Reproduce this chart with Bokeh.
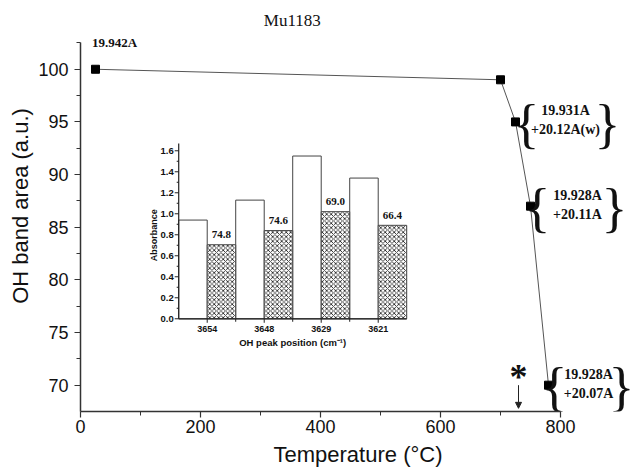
import numpy as np
from bokeh.plotting import figure
from bokeh.models import Range1d, FixedTicker, Arrow, NormalHead
from bokeh.core.properties import value
from bokeh.embed import file_html
from bokeh.resources import INLINE

# ---------------- data ----------------
title_text = "Mu1183"
temps = [25, 700, 725, 750, 780]
area = [100, 99, 95, 87, 70]
first_label = "19.942A"
brace_top = ["19.931A", "19.928A", "19.928A"]
brace_bot = ["+20.12A(w)", "+20.11A", "+20.07A"]
marker_temp = 730
arrow_from = 70.0
arrow_to = 67.8

x_major = [0, 200, 400, 600, 800]
x_minor = [100, 300, 500, 700]
y_major = [70, 75, 80, 85, 90, 95, 100]
y_minor = [72.5, 77.5, 82.5, 87.5, 92.5, 97.5, 102.5]

peaks = ["3654", "3648", "3629", "3621"]
abs_before = [0.94, 1.13, 1.55, 1.34]
abs_after = [0.705, 0.84, 1.02, 0.89]
pct = ["74.8", "74.6", "69.0", "66.4"]
inset_yticks = [0.0, 0.2, 0.4, 0.6, 0.8, 1.0, 1.2, 1.4, 1.6]
inset_yminor = [0.1, 0.3, 0.5, 0.7, 0.9, 1.1, 1.3, 1.5]
inset_ytop = 1.67

# ---------------- figure ----------------
SANS = "Liberation Sans"
SERIF = "Liberation Serif"
AX = "#333333"

p = figure(frame_width=555, frame_height=411,
           min_border_left=80, min_border_right=0, min_border_top=0, min_border_bottom=65,
           x_range=Range1d(0, 925), y_range=Range1d(67.5, 106.53),
           output_backend="svg", toolbar_location=None,
           x_axis_label="Temperature (°C)", y_axis_label="OH band area (a.u.)")
p.outline_line_color = None
p.grid.visible = False
p.background_fill_color = "white"
p.border_fill_color = "white"

p.xaxis.bounds = (0, 800)
p.yaxis.bounds = (67.5, 102.5)
p.xaxis.ticker = FixedTicker(ticks=x_major, minor_ticks=x_minor)
p.yaxis.ticker = FixedTicker(ticks=y_major, minor_ticks=y_minor)
for ax in (p.xaxis, p.yaxis):
    ax.axis_line_color = AX
    ax.axis_line_width = 1.5
    ax.major_tick_line_color = AX
    ax.minor_tick_line_color = AX
    ax.major_tick_line_width = 1.2
    ax.major_tick_out = 6
    ax.major_tick_in = 0
    ax.minor_tick_out = 4
    ax.minor_tick_in = 0
    ax.major_label_text_font = SANS
    ax.major_label_text_font_size = "18px"
    ax.major_label_text_color = "#111111"
    ax.axis_label_text_font = SANS
    ax.axis_label_text_font_size = "22px"
    ax.axis_label_text_font_style = "normal"
    ax.axis_label_text_color = "#111111"
p.xaxis.major_label_standoff = 2
p.xaxis.axis_label_standoff = 6
p.yaxis.major_label_standoff = 6
p.yaxis.axis_label_standoff = 2

# main line + points
p.line(temps, area, line_color="#555555", line_width=1)
p.scatter(temps, area, marker="square", size=8, color="black")

# title
p.text(x=[353], y=[104.63], text=[title_text], text_font=value(SERIF),
       text_font_size="17px", text_align="center", text_baseline="middle", text_color="#111111")

# first label
p.text(x=[temps[0]], y=[area[0]], text=[first_label], x_offset=19, y_offset=-27,
       text_font=value(SERIF), text_font_style="bold", text_font_size="13px",
       text_align="center", text_baseline="middle", text_color="#111111")

# braces annotations (pixel offsets from each point)
lb_dx = [11, 7, 6]
tx_dx = [50, 47, 40]
rb_dx = [92, 84, 73]
for k in range(3):
    xi, yi = temps[k + 2], area[k + 2]
    p.text(x=[xi, xi], y=[yi, yi], text=["{", "}"], x_offset=[lb_dx[k], rb_dx[k]], y_offset=[2, 2],
           text_font=value(SERIF), text_font_size="54px", text_align="center",
           text_baseline="middle", text_color="#111111")
    p.text(x=[xi, xi], y=[yi, yi], text=[brace_top[k], brace_bot[k]],
           x_offset=[tx_dx[k], tx_dx[k]], y_offset=[-11, 8],
           text_font=value(SERIF), text_font_style="bold", text_font_size="14px",
           text_align="center", text_baseline="middle", text_color="#111111")

# asterisk + arrow
p.text(x=[marker_temp], y=[arrow_from], text=["*"], y_offset=-8,
       text_font=value(SERIF), text_font_style="bold", text_font_size="36px",
       text_align="center", text_baseline="alphabetic", text_color="#111111")
p.add_layout(Arrow(x_start=marker_temp, y_start=arrow_from, x_end=marker_temp, y_end=arrow_to,
                   line_color="#222222", line_width=1,
                   end=NormalHead(size=6, fill_color="#222222", line_color="#222222")))

# ---------------- inset (own ranges inside the frame) ----------------
p.extra_x_ranges = {"ix": Range1d(-2.223, 7.514)}
p.extra_y_ranges = {"iy": Range1d(-0.883, 3.031)}
n = len(peaks)
idx = np.arange(n)
R = dict(x_range_name="ix", y_range_name="iy")

p.quad(left=idx - 0.5, right=idx, bottom=0, top=abs_before,
       fill_color="white", line_color="#444444", line_width=1, **R)
p.quad(left=idx, right=idx + 0.5, bottom=0, top=abs_after,
       fill_color="white", line_color="#444444", line_width=1,
       hatch_pattern="diagonal_cross", hatch_color="#2a2a2a", hatch_scale=4.5, hatch_weight=0.9, **R)

p.text(x=idx + 0.25, y=abs_after, text=pct, y_offset=-10,
       text_font=value(SERIF), text_font_style="bold", text_font_size="11px",
       text_align="center", text_baseline="middle", text_color="#111111", **R)

x0 = -0.5
x1 = n - 0.5
dx_px = 1 / 57.0
dy_px = 1 / 105.0
# axis lines
p.segment(x0=[x0, x0], y0=[0, 0], x1=[x0, x1], y1=[inset_ytop, 0], line_color="#222222", line_width=1.2, **R)
# y ticks
p.segment(x0=[x0 - 4 * dx_px] * len(inset_yticks), y0=inset_yticks, x1=[x0] * len(inset_yticks), y1=inset_yticks,
          line_color="#222222", line_width=1, **R)
p.segment(x0=[x0 - 2 * dx_px] * len(inset_yminor), y0=inset_yminor, x1=[x0] * len(inset_yminor), y1=inset_yminor,
          line_color="#222222", line_width=1, **R)
p.text(x=[x0] * len(inset_yticks), y=inset_yticks, text=[f"{t:.1f}" for t in inset_yticks], x_offset=-5,
       text_font=value(SANS), text_font_style="bold", text_font_size="9.5px",
       text_align="right", text_baseline="middle", text_color="#111111", **R)
# x ticks
bounds = list(idx[:-1] + 0.5)
p.segment(x0=idx, y0=[0] * n, x1=idx, y1=[-4 * dy_px] * n, line_color="#222222", line_width=1, **R)
p.segment(x0=bounds, y0=[0] * len(bounds), x1=bounds, y1=[-3 * dy_px] * len(bounds), line_color="#222222", line_width=1, **R)
p.text(x=idx, y=[0] * n, text=peaks, y_offset=10,
       text_font=value(SANS), text_font_style="bold", text_font_size="9px",
       text_align="center", text_baseline="middle", text_color="#111111", **R)
# inset axis titles
p.text(x=[x0], y=[inset_ytop / 2 - 0.04], text=["Absorbance"], x_offset=-25, angle=np.pi / 2,
       text_font=value(SANS), text_font_style="bold", text_font_size="9px",
       text_align="center", text_baseline="middle", text_color="#111111", **R)
p.text(x=[(n - 1) / 2], y=[0], text=["OH peak position (cm⁻¹)"], y_offset=24,
       text_font=value(SANS), text_font_style="bold", text_font_size="9.5px",
       text_align="center", text_baseline="middle", text_color="#111111", **R)

open("out.html", "w").write(file_html(p, INLINE))
